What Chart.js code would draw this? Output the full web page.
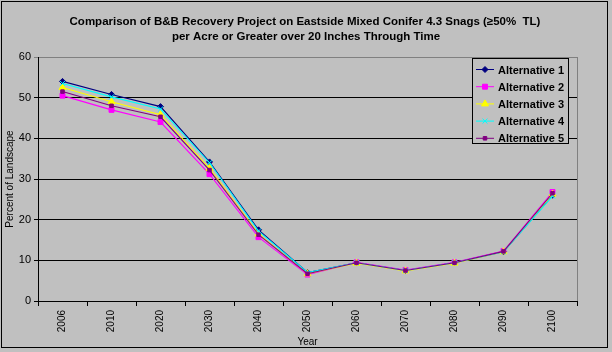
<!DOCTYPE html>
<html>
<head>
<meta charset="utf-8">
<script src="https://cdn.jsdelivr.net/npm/chart.js@4/dist/chart.umd.min.js"></script>
<style>
  body { margin: 0; background: #fff; }
  canvas { display: block; }
</style>
</head>
<body>
<canvas id="snags" width="612" height="352"></canvas>
<script>
const years = ['2006', '2010', '2020', '2030', '2040', '2050', '2060', '2070', '2080', '2090', '2100'];
const seriesNames = ['Alternative 1', 'Alternative 2', 'Alternative 3', 'Alternative 4', 'Alternative 5'];

const alt1 = [54.0, 50.8, 47.8, 34.2, 17.5, 7.0, 9.4, 7.5, 9.4, 12.1, 26.0];
const alt2 = [50.5, 47.0, 44.0, 31.2, 15.7, 6.5, 9.5, 7.6, 9.5, 12.3, 26.8];
const alt3 = [52.5, 49.0, 45.8, 32.6, 16.5, 6.7, 9.3, 7.4, 9.3, 12.1, 26.3];
const alt4 = [53.5, 50.2, 47.2, 34.0, 17.2, 7.0, 9.4, 7.5, 9.4, 12.1, 25.8];
const alt5 = [51.5, 48.0, 45.3, 32.2, 16.3, 6.7, 9.4, 7.5, 9.4, 12.2, 26.5];

const yTicks = [0, 10, 20, 30, 40, 50, 60];
const titleLines = ['Comparison of B&B Recovery Project on Eastside Mixed Conifer 4.3 Snags (\u226550%  TL)',
                    'per Acre or Greater over 20 Inches Through Time'];

const colors = ['#000080', '#ff00ff', '#ffff00', '#00ffff', '#800080'];
const markers = ['rectRot', 'rect', 'triangle', 'crossRot', 'rect'];
const markerSize = [3, 3.5, 4, 3.5, 2.5];

const font = 'Arial, "Liberation Sans", sans-serif';

// gray background, plot frame, title, legend box and black outer border
const frame = {
  id: 'frame',
  beforeDraw(chart) {
    const c = chart.ctx, a = chart.chartArea;
    c.save();
    c.fillStyle = '#c0c0c0';
    c.fillRect(0, 0, chart.width, chart.height);
    c.strokeStyle = '#808080';
    c.lineWidth = 1;
    c.strokeRect(Math.round(a.left) + 0.5, Math.round(a.top) + 0.5, Math.round(a.right - a.left), Math.round(a.bottom - a.top));
    c.restore();
  },
  afterDraw(chart) {
    const c = chart.ctx;
    c.save();
    c.strokeStyle = '#000';
    c.lineWidth = 1;
    c.strokeRect(1.5, 1.5, 606, 346);

    c.fillStyle = '#000';
    c.font = 'bold 11.5px ' + font;
    c.textAlign = 'center';
    c.textBaseline = 'middle';
    c.fillText(titleLines[0], 305, 22);
    c.fillText(titleLines[1], 306, 37);

    // legend box inside the plot
    const x = 472, y = 58, w = 96, h = 85;
    c.fillStyle = '#c0c0c0';
    c.fillRect(x, y, w, h);
    c.strokeRect(x + 0.5, y + 0.5, w, h);
    c.font = 'bold 11px ' + font;
    c.textAlign = 'left';
    chart.data.datasets.forEach((ds, i) => {
      const ly = y + 11.5 + i * 17.2;
      c.strokeStyle = ds.borderColor;
      c.lineWidth = 1;
      c.beginPath();
      c.moveTo(x + 4, ly);
      c.lineTo(x + 22, ly);
      c.stroke();
      c.fillStyle = ds.borderColor;
      Chart.helpers.drawPoint(c, { pointStyle: ds.pointStyle, radius: ds.pointRadius, borderWidth: 1 }, x + 13, ly);
      c.fillStyle = '#000';
      c.fillText(ds.label, x + 26, ly + 1);
    });
    c.restore();
  }
};

const values = [alt1, alt2, alt3, alt4, alt5];

new Chart(document.getElementById('snags'), {
  type: 'line',
  data: {
    labels: years,
    datasets: values.map((v, i) => ({
      label: seriesNames[i],
      data: v,
      borderColor: colors[i],
      backgroundColor: colors[i],
      pointStyle: markers[i],
      pointRadius: markerSize[i],
      pointBorderWidth: 1,
      borderWidth: 1.1,
      tension: 0,
      order: 4 - i
    }))
  },
  options: {
    responsive: false,
    animation: false,
    layout: { padding: { top: 57, left: 4, right: 35, bottom: 4 } },
    plugins: {
      legend: { display: false },
      tooltip: { enabled: false },
      title: { display: false }
    },
    scales: {
      x: {
        offset: true,
        afterFit(s) { s.height = 47; },
        grid: { offset: true, drawOnChartArea: false, drawTicks: true, tickLength: 5, color: '#000' },
        border: { color: '#000' },
        ticks: { color: '#000', font: { family: font, size: 10 }, minRotation: 90, maxRotation: 90, padding: 4 },
        title: { display: true, text: 'Year', color: '#000', font: { family: font, size: 10 }, padding: { top: 2, bottom: 0 } }
      },
      y: {
        min: 0,
        max: 60,
        afterFit(s) { s.width = 34; },
        afterBuildTicks(s) { s.ticks = yTicks.map(v => ({ value: v })); },
        grid: {
          color: c => (c.tick && c.tick.value === 60 ? '#808080' : '#000'),
          tickLength: 4,
          lineWidth: 1
        },
        border: { color: '#000' },
        ticks: { color: '#000', font: { family: font, size: 11 }, padding: 3 },
        title: { display: true, text: 'Percent of Landscape', color: '#000', font: { family: font, size: 10 }, padding: 0 }
      }
    }
  },
  plugins: [frame]
});
</script>
</body>
</html>
